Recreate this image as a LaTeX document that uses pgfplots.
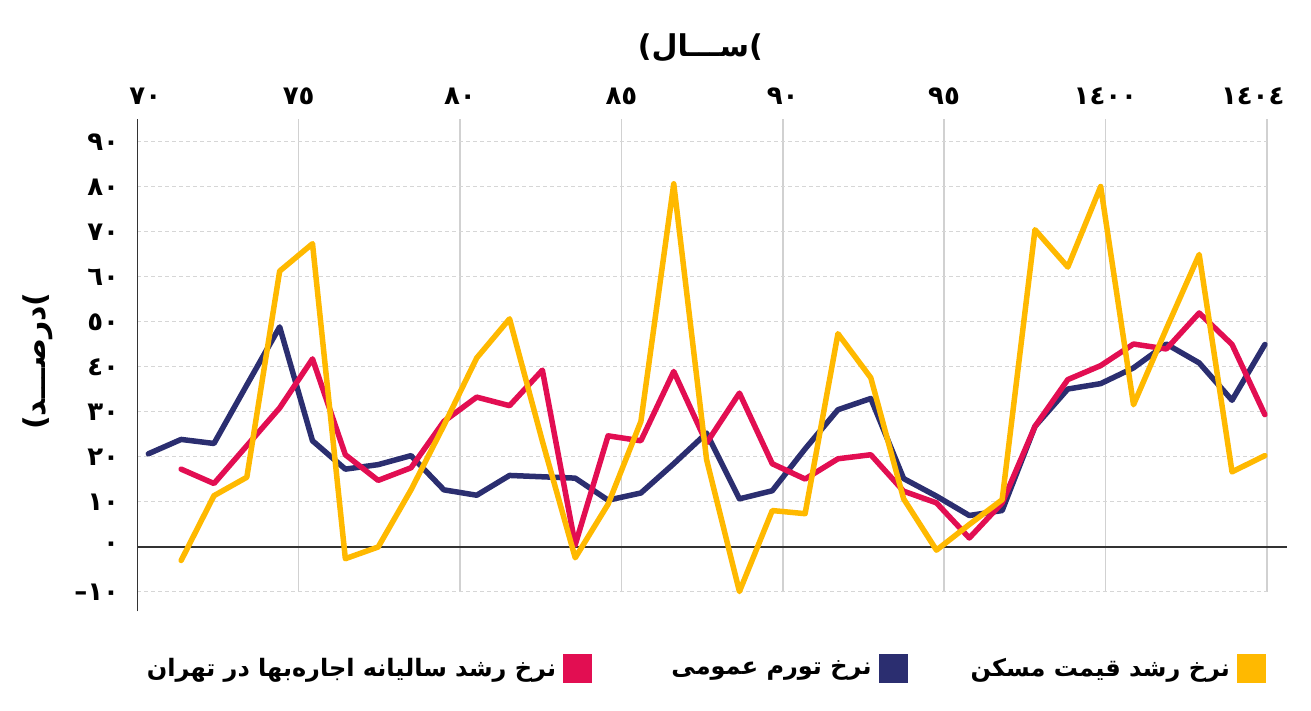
\documentclass[border=0pt]{standalone}
\usepackage{fontspec}
\usepackage{pgfplots}
\pgfplotsset{compat=1.18}
\TeXXeTstate=1
\newfontfamily\arabicfont[Script=Arabic]{DejaVu Sans}
\newfontfamily\digitfont{DejaVu Sans}
\definecolor{cyel}{RGB}{255,185,0}
\definecolor{cnavy}{RGB}{43,46,112}
\definecolor{cred}{RGB}{226,14,82}
\definecolor{axc}{RGB}{51,51,51}
\begin{document}
\begin{tikzpicture}[x=1pt,y=1pt]
\useasboundingbox (0,0) rectangle (1311,711);
\begin{axis}[
  at={(137.3pt,119pt)}, anchor=south west,
  scale only axis, width=1129.4pt, height=473pt,
  xmin=-0.335, xmax=34.057, ymin=-10, ymax=95.1,
  clip=false,
  axis line style={draw=none},
  tick style={draw=none},
  xtick={-0.335,4.578,9.491,14.405,19.318,24.231,29.144,34.057},
  xticklabels={\hspace{16pt}٧٠,٧٥,٨٠,٨٥,٩٠,٩٥,١٤٠٠,١٤٠٤\rule{28pt}{0pt}},
  minor x tick num=4,
  xticklabel pos=upper,
  xticklabel style={font=\digitfont\bfseries\fontsize{26}{26}\selectfont, anchor=south, inner sep=0pt, yshift=14pt},
  ytick={-10,0,10,20,30,40,50,60,70,80,90},
  yticklabels={–١٠,٠,١٠,٢٠,٣٠,٤٠,٥٠,٦٠,٧٠,٨٠,٩٠},
  yticklabel style={font=\digitfont\bfseries\fontsize{26}{26}\selectfont, anchor=east, inner sep=0pt, xshift=-18pt},
  xmajorgrids, xminorgrids, ymajorgrids,
  major x grid style={draw=black!18, line width=1.6pt},
  minor x grid style={draw=black!7, line width=1.2pt},
  major y grid style={draw=black!16, line width=1pt, dash pattern=on 4pt off 3pt},
  title={\digitfont\bfseries\fontsize{30}{30}\selectfont (\arabicfont\beginR ســـال\endR)},
  title style={at={(axis description cs:0.4985,1.1374)}, anchor=center, inner sep=0pt},
  ylabel={\digitfont\bfseries\fontsize{30}{30}\selectfont (\arabicfont\beginR درصـــد\endR)},
  ylabel style={at={(axis description cs:-0.0879,0.488)}, anchor=center, rotate=0, inner sep=0pt},
  legend style={at={(0.0130,-0.1607)}, anchor=west, draw=none, fill=none,
    legend columns=3, nodes={inner sep=0pt},
    /tikz/every odd column/.append style={column sep=7pt},
    /tikz/every even column/.append style={column sep=10pt},
    font=\arabicfont\bfseries\fontsize{24}{24}\selectfont},
  legend plot pos=right,
  legend image code/.code={\fill[#1] (0pt,-14pt) rectangle (28pt,14pt);},
]
\draw[axc, line width=2pt] (axis cs:-0.335,0) -- (axis cs:34.66,0);
\draw[axc, line width=1.6pt] (axis cs:-0.335,-14.3) -- (axis cs:-0.335,95.1);

\addplot[cnavy, line width=5.5pt, line join=round, line cap=round, forget plot] coordinates {
(0,20.7)(1,23.9)(2,23.0)(3,36.0)(4,48.9)(5,23.6)(6,17.3)(7,18.3)(8,20.3)(9,12.7)(10,11.5)(11,15.9)(12,15.6)(13,15.3)(14,10.4)(15,12.0)(16,18.5)(17,25.3)(18,10.7)(19,12.5)(20,21.8)(21,30.5)(22,33.0)(23,15.2)(24,11.3)(25,7.0)(26,8.1)(27,26.8)(28,35.1)(29,36.3)(30,39.8)(31,45.1)(32,40.9)(33,32.6)(34,45.0)
};
\addplot[cred, line width=5.5pt, line join=round, line cap=round, forget plot] coordinates {
(1,17.3)(2,14.1)(3,22.5)(4,30.9)(5,41.8)(6,20.5)(7,14.8)(8,17.6)(9,27.9)(10,33.3)(11,31.4)(12,39.3)(13,0.5)(14,24.7)(15,23.6)(16,39.0)(17,23.1)(18,34.2)(19,18.5)(20,15.1)(21,19.6)(22,20.5)(23,12.4)(24,9.8)(25,2.0)(26,9.8)(27,26.8)(28,37.2)(29,40.3)(30,45.1)(31,44.0)(32,52.0)(33,45.0)(34,29.4)
};
\addplot[cyel, line width=5.5pt, line join=round, line cap=round, forget plot] coordinates {
(1,-3.0)(2,11.4)(3,15.5)(4,61.3)(5,67.4)(6,-2.6)(7,0)(8,12.7)(9,27.0)(10,42.0)(11,50.7)(12,23.5)(13,-2.4)(14,9.5)(15,27.9)(16,80.7)(17,19.4)(18,-9.9)(19,8.1)(20,7.4)(21,47.4)(22,37.6)(23,10.7)(24,-0.7)(25,5.0)(26,10.5)(27,70.5)(28,62.2)(29,80.1)(30,31.6)(31,48.5)(32,65.0)(33,16.7)(34,20.3)
};

\addlegendimage{cred}
\addlegendentry{\makebox[401pt][r]{\beginR نرخ رشد سالیانه اجاره‌بها در تهران\endR}}
\addlegendimage{cnavy}
\addlegendentry{\makebox[270pt][r]{\beginR نرخ تورم عمومی\endR}}
\addlegendimage{cyel}
\addlegendentry{\makebox[313pt][r]{\beginR نرخ رشد قیمت مسکن\endR}}
\end{axis}
\end{tikzpicture}
\end{document}
